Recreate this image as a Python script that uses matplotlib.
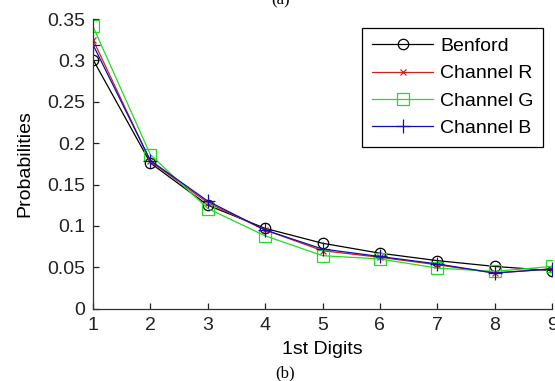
import numpy as np
import matplotlib
matplotlib.use("Agg")
import matplotlib.pyplot as plt

plt.rcParams["font.family"] = ["Liberation Sans", "DejaVu Sans"]

digits = [1, 2, 3, 4, 5, 6, 7, 8, 9]
benford = [0.301, 0.176, 0.125, 0.097, 0.079, 0.067, 0.058, 0.051, 0.046]
channel_r = [0.325, 0.178, 0.128, 0.095, 0.070, 0.062, 0.053, 0.043, 0.048]
channel_g = [0.341, 0.186, 0.121, 0.088, 0.064, 0.060, 0.049, 0.045, 0.051]
channel_b = [0.319, 0.179, 0.130, 0.095, 0.072, 0.063, 0.054, 0.043, 0.048]

fig = plt.figure(figsize=(5.55, 3.81), dpi=100)
ax = fig.add_axes([0.1676, 0.190, 0.8270, 0.760])

ax.plot(digits, benford, color="black", lw=0.9, marker="o", ms=7.5, mfc="none", mew=0.9, label="Benford")
ax.plot(digits, channel_r, color="#d02020", lw=0.9, marker="x", ms=5, mew=0.9, label="Channel R")
ax.plot(digits, channel_g, color="#22dd22", lw=0.9, marker="s", ms=8.5, mfc="none", mew=0.9, label="Channel G")
ax.plot(digits, channel_b, color="#1010b0", lw=0.9, marker="+", ms=10, mew=0.9, label="Channel B")

ax.set_xlim(1, 9)
ax.set_ylim(0, 0.35)
ax.set_xticks(digits)
ax.set_yticks([0, 0.05, 0.1, 0.15, 0.2, 0.25, 0.3, 0.35])
ax.set_yticklabels(["0", "0.05", "0.1", "0.15", "0.2", "0.25", "0.3", "0.35"])
ax.spines["top"].set_visible(False)
ax.spines["right"].set_visible(False)
for s in ("left", "bottom"):
    ax.spines[s].set_color("#333333")
    ax.spines[s].set_linewidth(0.9)
ax.tick_params(direction="in", length=4, width=0.9, labelsize=14, colors="#222222")
ax.tick_params(axis="y", pad=5.5)
ax.tick_params(axis="x", pad=6)

ax.set_xlabel("1st Digits", fontsize=14, labelpad=5)
ax.set_ylabel("Probabilities", fontsize=14, labelpad=10)

leg = ax.legend(loc="upper right", fontsize=14, handlelength=3.15,
                frameon=True, fancybox=False, borderpad=0.5, borderaxespad=0.45,
                labelspacing=0.5, handletextpad=0.35)
leg.get_frame().set_edgecolor("black")
leg.get_frame().set_linewidth(0.9)
leg.get_frame().set_alpha(1)

fig.text(0.513, 0.021, "(b)", fontsize=12, family="Liberation Serif", ha="center", va="center")
fig.text(0.505, 1.0, "(a)", fontsize=12, family="Liberation Serif", ha="center", va="center")

fig.savefig("out.png", dpi=100)
